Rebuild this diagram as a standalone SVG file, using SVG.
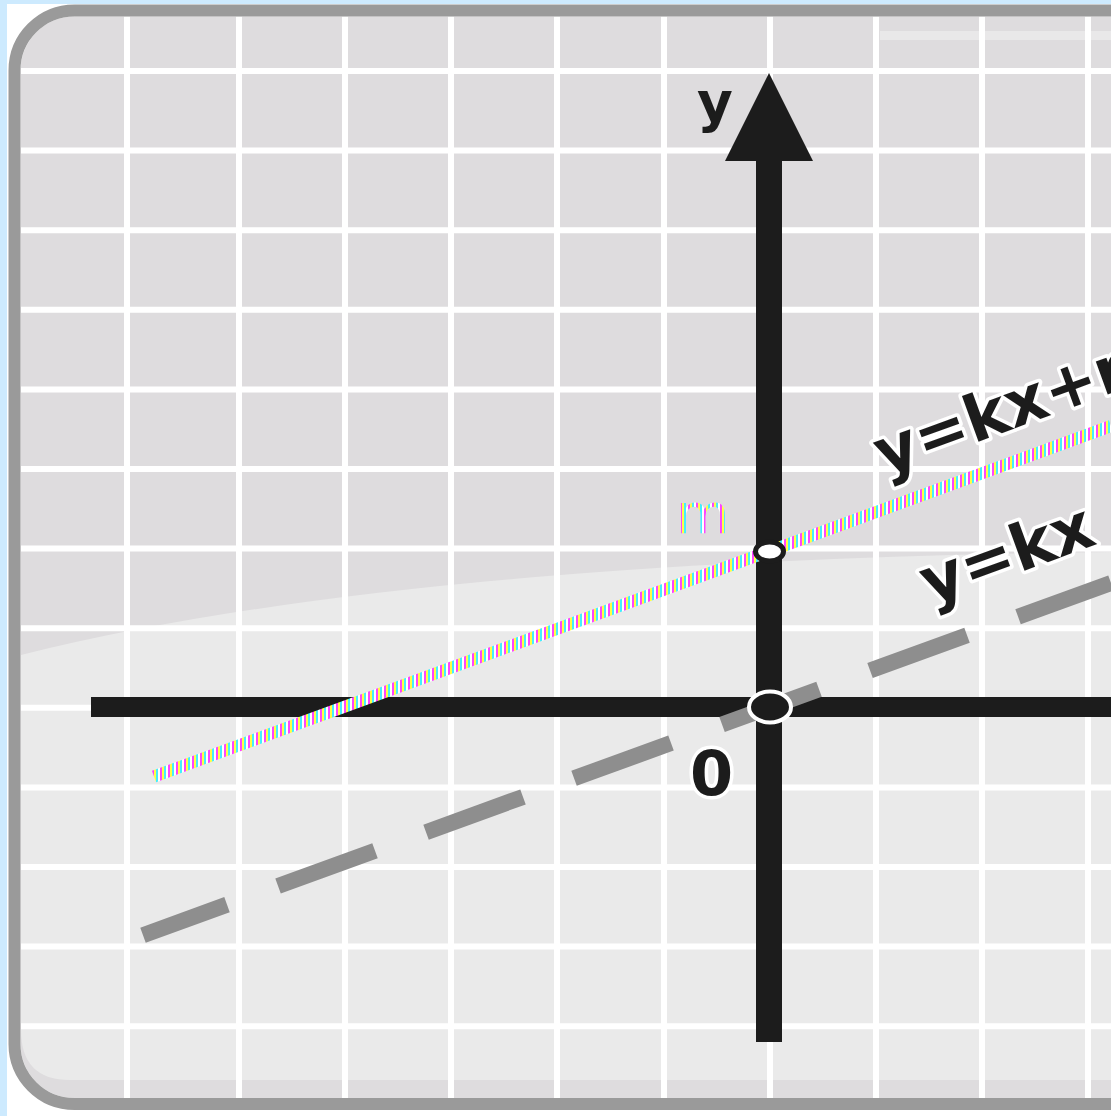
<svg xmlns="http://www.w3.org/2000/svg" width="1111" height="1116" viewBox="0 0 1111 1116">
<defs>
<style>
.grid{stroke:#ffffff;stroke-width:6;fill:none}
.axis{fill:#1c1c1c}
.lbl{font-family:"DejaVu Sans","Liberation Sans",sans-serif;font-weight:bold;fill:#1c1c1c}
.halo{stroke:#ffffff;stroke-width:7;stroke-linejoin:round;paint-order:stroke}
</style>
<pattern id="rgb" patternUnits="userSpaceOnUse" width="8" height="8">
<rect x="0" y="0" width="2" height="8" fill="#ff44ff"/>
<rect x="2" y="0" width="2" height="8" fill="#ffff44"/>
<rect x="4" y="0" width="2" height="8" fill="#44eeff"/>
<rect x="6" y="0" width="2" height="8" fill="#ffffff"/>
</pattern>
<clipPath id="inner">
<rect x="20.5" y="16.5" width="1200" height="1081.5" rx="54"/>
</clipPath>
</defs>

<g id="background">
<rect x="0" y="0" width="1111" height="1116" fill="#cdeafe"/>
<rect x="7" y="4" width="1104" height="1112" fill="#ffffff"/>
</g>

<g id="plot-area" clip-path="url(#inner)">
<rect x="14" y="10" width="1200" height="1100" fill="#dedcde"/>
<path d="M21,655 Q400,560 1111,552 L1111,1080 L70,1080 Q21,1080 21,1030 Z" fill="#eaeaea"/>
<rect x="880" y="31" width="231" height="9" fill="#ffffff" opacity="0.35"/>
<g id="grid">
<path class="grid" d="M127,15V1098M239,15V1098M345,15V1098M451,15V1098M557,15V1098M664,15V1098M770,15V1098M876,15V1098M982,15V1098M1088,15V1098"/>
<path class="grid" d="M21,71H1111M21,150.6H1111M21,230.2H1111M21,309.8H1111M21,389.4H1111M21,469H1111M21,548.6H1111M21,628.2H1111M21,707.8H1111M21,787.4H1111M21,867H1111M21,946.6H1111M21,1026.2H1111"/>
</g>
</g>

<g id="frame">
<rect x="14.5" y="10.5" width="1200" height="1093.5" rx="60" fill="none" stroke="#9a9a9a" stroke-width="12"/>
</g>

<g id="axes">
<rect id="x-axis" class="axis" x="91" y="697" width="1020" height="20"/>
<rect id="y-axis" class="axis" x="756" y="158" width="26" height="884"/>
<polygon id="y-arrow" class="axis" points="769,73 813,161 725,161"/>
</g>

<g id="connectors">
<line id="line-kx" x1="143" y1="935.2" x2="1111" y2="582.9" stroke="#8e8e8e" stroke-width="16" stroke-dasharray="103.2 54.3" stroke-dashoffset="13.8"/>
<line id="line-kx-m" x1="154" y1="776.5" x2="1111" y2="426" stroke="url(#rgb)" stroke-width="12"/>
</g>

<g id="origin">
<ellipse cx="770" cy="707" rx="21" ry="15.5" fill="#1c1c1c" stroke="#ffffff" stroke-width="4"/>
</g>
<g id="point-m">
<ellipse cx="769.5" cy="551.5" rx="14" ry="9.5" fill="#ffffff" stroke="#1c1c1c" stroke-width="5"/>
</g>

<g id="labels">
<text id="label-y" class="lbl" x="697" y="121" font-size="55">y</text>
<text id="label-0" class="lbl halo" x="711.5" y="795" font-size="62" text-anchor="middle">0</text>
<text id="label-m" x="676" y="533" font-size="55" font-family="DejaVu Sans, Liberation Sans, sans-serif" fill="url(#rgb)">m</text>
<text id="label-kxm" class="lbl halo" x="884" y="476" font-size="64" transform="rotate(-20 884 476)">y=kx+m</text>
<text id="label-kx" class="lbl halo" x="930" y="605" font-size="64" transform="rotate(-20 930 605)">y=kx</text>
</g>
</svg>
